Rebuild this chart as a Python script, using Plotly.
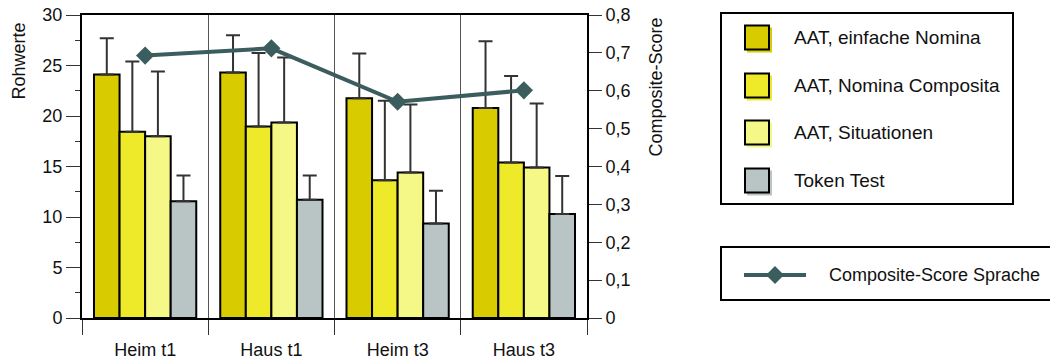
import plotly.graph_objects as go

# ---- data -------------------------------------------------------------
categories = ["Heim t1", "Haus t1", "Heim t3", "Haus t3"]

series_names = ["AAT, einfache Nomina", "AAT, Nomina Composita",
                "AAT, Situationen", "Token Test"]
aat_einfach = [24.1, 24.3, 21.75, 20.8]
aat_composita = [18.45, 18.95, 13.65, 15.4]
aat_situationen = [18.0, 19.35, 14.4, 14.9]
token_test = [11.55, 11.7, 9.35, 10.3]

sd_einfach = [3.6, 3.7, 4.45, 6.6]
sd_composita = [6.95, 7.3, 7.85, 8.55]
sd_situationen = [6.4, 6.45, 6.75, 6.35]
sd_token = [2.55, 2.4, 3.25, 3.75]

composite_name = "Composite-Score Sprache"
composite_score = [0.693, 0.712, 0.571, 0.601]

# ---- styling ----------------------------------------------------------
FONT = "Liberation Sans, Arial, sans-serif"
bar_colors = ["#d8cb00", "#eeea2a", "#f5f786", "#b9c5c5"]
line_color = "#3c5d5d"
err_color = "#333333"
AX_FONT = 18
LEG_FONT = 19

W, H = 1050, 363
L, R, T, B = 82, 587, 15, 318  # plot area in pixels


def px_x(x):
    return (x - L) / (R - L)


def px_y(y):
    return (B - y) / (B - T)


values = [aat_einfach, aat_composita, aat_situationen, token_test]
errors = [sd_einfach, sd_composita, sd_situationen, sd_token]

fig = go.Figure()
for name, vals, errs, col in zip(series_names, values, errors, bar_colors):
    fig.add_trace(go.Bar(
        x=categories, y=vals, name=name,
        marker=dict(color=col, line=dict(color="black", width=2)),
        error_y=dict(type="data", symmetric=False, array=errs,
                     arrayminus=[0] * len(errs), color=err_color,
                     thickness=2, width=7),
        showlegend=False,
    ))

fig.add_trace(go.Scatter(
    x=categories, y=composite_score, name=composite_name, yaxis="y2",
    mode="lines+markers",
    line=dict(color=line_color, width=4),
    marker=dict(symbol="diamond", size=14, color=line_color),
    showlegend=False,
))

fig.update_layout(
    width=W, height=H,
    margin=dict(l=L, r=W - R, t=T, b=H - B, autoexpand=False),
    paper_bgcolor="white", plot_bgcolor="white",
    font=dict(family=FONT, size=AX_FONT, color="#111111"),
    separators=", ",
    barmode="group", bargap=0.19, bargroupgap=0,
    xaxis=dict(
        type="category", tickson="boundaries", ticks="outside", ticklen=15,
        tickcolor="#333333", tickwidth=1, ticklabelstandoff=14,
        showgrid=True, gridcolor="#555555", gridwidth=1,
        showline=True, linecolor="black", linewidth=2, mirror=True,
        tickfont=dict(size=AX_FONT), range=[-0.5, 3.5],
    ),
    yaxis=dict(
        range=[0, 30], dtick=5, ticks="outside", ticklen=14,
        tickcolor="#333333", tickwidth=1,
        minor=dict(dtick=2.5, ticks="outside", ticklen=5,
                   tickcolor="#333333", tickwidth=1),
        showgrid=False, zeroline=False,
        showline=True, linecolor="black", linewidth=2,
        tickfont=dict(size=AX_FONT),
    ),
    yaxis2=dict(
        range=[0, 0.8], dtick=0.1, tickformat=".1~f",
        overlaying="y", side="right", ticks="outside", ticklen=13,
        tickcolor="#333333", tickwidth=1,
        showgrid=False, zeroline=False,
        showline=True, linecolor="black", linewidth=2,
        tickfont=dict(size=AX_FONT),
    ),
)

annotations = [
    dict(text="Rohwerte", textangle=-90, x=px_x(18), y=px_y(21),
         xanchor="center", yanchor="top", font=dict(size=AX_FONT)),
    dict(text="Composite-Score", textangle=-90, x=px_x(655), y=px_y(16),
         xanchor="center", yanchor="top", font=dict(size=AX_FONT)),
]
shapes = []

# legend box for the bar series
shapes.append(dict(type="rect", xref="paper", yref="paper",
                   x0=px_x(721), x1=px_x(1013), y0=px_y(13), y1=px_y(204),
                   line=dict(color="black", width=2), fillcolor="white",
                   layer="below"))
item_y = [37.5, 85.5, 132.5, 180.5]
for name, col, yc in zip(series_names, bar_colors, item_y):
    # slight offset shadow behind the swatch
    shapes.append(dict(type="rect", xref="paper", yref="paper",
                       x0=px_x(747), x1=px_x(772), y0=px_y(yc - 10),
                       y1=px_y(yc + 15), line=dict(width=0), fillcolor=col))
    shapes.append(dict(type="rect", xref="paper", yref="paper",
                       x0=px_x(745), x1=px_x(769), y0=px_y(yc - 12),
                       y1=px_y(yc + 12), line=dict(color="black", width=2),
                       fillcolor=col))
    annotations.append(dict(text=name, x=px_x(792), y=px_y(yc),
                            xanchor="left", yanchor="middle",
                            font=dict(size=LEG_FONT)))

# legend box for the composite line
shapes.append(dict(type="rect", xref="paper", yref="paper",
                   x0=px_x(721), x1=px_x(1060), y0=px_y(247), y1=px_y(300),
                   line=dict(color="black", width=2), fillcolor="white",
                   layer="below"))
shapes.append(dict(type="line", xref="paper", yref="paper",
                   x0=px_x(744), x1=px_x(806), y0=px_y(275), y1=px_y(275),
                   line=dict(color=line_color, width=4)))
shapes.append(dict(type="path", xref="paper", yref="paper",
                   path="M {a},{b} L {c},{d} L {a},{e} L {f},{d} Z".format(
                       a=px_x(775), b=px_y(266), c=px_x(784), d=px_y(275),
                       e=px_y(284), f=px_x(766)),
                   line=dict(width=0), fillcolor=line_color))
annotations.append(dict(text=composite_name, x=px_x(827), y=px_y(275),
                        xanchor="left", yanchor="middle",
                        font=dict(size=18)))

for a in annotations:
    a.update(xref="paper", yref="paper", showarrow=False)
fig.update_layout(annotations=annotations, shapes=shapes)

fig.write_html("out.html")
